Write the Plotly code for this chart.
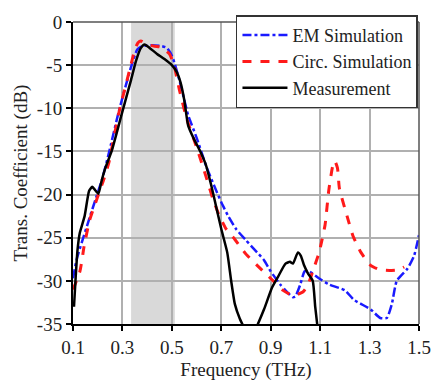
import plotly.graph_objects as go

# Measurement
meas_f = [0.104, 0.110, 0.118, 0.127, 0.147, 0.165, 0.178, 0.190, 0.203, 0.215, 0.230, 0.257, 0.296,
          0.335, 0.355, 0.375, 0.390, 0.410, 0.440, 0.470, 0.500, 0.520, 0.535, 0.550, 0.566, 0.590,
          0.615, 0.637, 0.660, 0.680, 0.700, 0.724, 0.740, 0.755, 0.775, 0.790, 0.815, 0.845, 0.873,
          0.905, 0.930, 0.960, 0.978, 0.990, 1.010, 1.022, 1.035, 1.050, 1.070, 1.080, 1.090]
meas_db = [-33.0, -30.0, -26.5, -24.5, -22.5, -19.6, -19.1, -19.5, -19.9, -18.5, -17.0, -14.9, -10.8,
           -6.7, -4.5, -3.0, -2.6, -3.0, -3.7, -4.3, -5.0, -5.8, -7.0, -9.0, -12.0, -13.6,
           -15.0, -16.5, -19.0, -21.5, -24.0, -26.7, -30.0, -32.7, -34.4, -35.3, -37.0, -35.2, -33.3,
           -30.8, -29.5, -28.0, -27.8, -28.0, -26.7, -27.1, -28.2, -29.1, -30.0, -33.0, -35.5]

# EM simulation
em_f = [0.100, 0.115, 0.135, 0.167, 0.193, 0.218, 0.245, 0.285, 0.335, 0.360, 0.380, 0.420, 0.460,
        0.480, 0.495, 0.508, 0.530, 0.550, 0.566, 0.600, 0.640, 0.670, 0.700, 0.730, 0.760, 0.800,
        0.845, 0.873, 0.900, 0.938, 0.960, 0.990, 1.000, 1.020, 1.037, 1.056, 1.095, 1.135, 1.200,
        1.237, 1.304, 1.343, 1.370, 1.390, 1.410, 1.453, 1.480, 1.500]
em_db = [-29.7, -27.5, -25.6, -22.7, -20.4, -18.2, -15.2, -10.4, -5.2, -3.2, -2.8, -2.7, -2.8,
         -3.0, -3.6, -4.5, -6.7, -9.0, -10.8, -13.4, -16.8, -18.9, -20.9, -22.6, -24.0, -25.3,
         -26.7, -27.6, -28.9, -30.4, -31.1, -31.9, -31.8, -30.4, -28.9, -28.9, -29.7, -30.4, -31.1,
         -32.2, -33.3, -34.3, -34.3, -32.7, -30.0, -28.6, -27.1, -24.7]

# Circuit simulation
circ_f = [0.100, 0.128, 0.145, 0.167, 0.198, 0.225, 0.245, 0.285, 0.335, 0.350, 0.363, 0.375, 0.400,
          0.430, 0.455, 0.470, 0.490, 0.508, 0.530, 0.560, 0.600, 0.637, 0.665, 0.690, 0.720, 0.755,
          0.800, 0.845, 0.910, 0.950, 0.990, 1.030, 1.050, 1.070, 1.095, 1.108, 1.120, 1.135, 1.150,
          1.159, 1.170, 1.178, 1.206, 1.233, 1.265, 1.304, 1.340, 1.380, 1.420, 1.440]
circ_db = [-31.0, -28.9, -26.0, -23.0, -20.4, -18.2, -16.3, -10.6, -4.9, -3.2, -2.4, -2.2, -2.6,
           -2.8, -2.9, -3.2, -3.7, -4.9, -7.8, -11.2, -14.5, -17.8, -20.4, -22.3, -24.0, -25.2,
           -26.9, -28.2, -30.0, -31.1, -31.7, -31.3, -30.5, -28.9, -26.8, -25.2, -23.5, -19.5, -16.8,
           -16.1, -16.9, -19.3, -22.2, -24.8, -26.7, -28.2, -28.7, -28.8, -28.7, -28.4]

band = [0.335, 0.512]
x_ticks = [0.1, 0.3, 0.5, 0.7, 0.9, 1.1, 1.3, 1.5]
x_ticktext = ["0.1", "0.3", "0.5", "0.7", "0.9", "1.1", "1.3", "1.5"]
y_ticks = [0, -5, -10, -15, -20, -25, -30, -35]
y_ticktext = ["0", "-5", "-10", "-15", "-20", "-25", "-30", "-35"]

FONT = "Liberation Serif"

fig = go.Figure()
fig.add_trace(go.Scatter(x=em_f, y=em_db, mode="lines", name="EM Simulation",
                         line=dict(color="#1a1aff", width=2.5, dash="dashdot", shape="spline", smoothing=0.5)))
fig.add_trace(go.Scatter(x=circ_f, y=circ_db, mode="lines", name="Circ. Simulation",
                         line=dict(color="#ff1a1a", width=3, dash="dash", shape="spline", smoothing=0.5)))
fig.add_trace(go.Scatter(x=meas_f, y=meas_db, mode="lines", name="Measurement",
                         line=dict(color="#000000", width=2.5, shape="spline", smoothing=0.5)))

fig.add_shape(type="rect", xref="x", yref="y", x0=band[0], x1=band[1], y0=-35, y1=0,
              fillcolor="#d9d9d9", line=dict(width=0), layer="below")
# top / right frame
fig.add_shape(type="line", xref="paper", yref="paper", x0=0, x1=1, y0=1, y1=1,
              line=dict(color="#555555", width=1.5))
fig.add_shape(type="line", xref="paper", yref="paper", x0=1, x1=1, y0=0, y1=1,
              line=dict(color="#555555", width=1.5))

fig.update_layout(
    width=443, height=389,
    margin=dict(l=73, r=13, t=13, b=60),
    paper_bgcolor="white", plot_bgcolor="white",
    font=dict(family=FONT, size=19, color="#222222"),
    showlegend=True,
    legend=dict(x=0.997, y=1.022, xanchor="right", yanchor="top",
                bgcolor="white", bordercolor="#333333", borderwidth=1.5,
                font=dict(family=FONT, size=18, color="#222222"),
                itemwidth=45, tracegroupgap=0),
)
fig.update_xaxes(range=[0.1, 1.5], tickvals=x_ticks, ticktext=x_ticktext,
                 showgrid=True, gridcolor="#b0b0b0", gridwidth=1.5,
                 showline=True, linecolor="#000000", linewidth=2,
                 ticks="outside", ticklen=5, tickwidth=1.5, tickcolor="#000000",
                 zeroline=False, tickfont=dict(family=FONT, size=19),
                 title=dict(text="Frequency (THz)", standoff=6, font=dict(family=FONT, size=19)))
fig.update_yaxes(range=[-35, 0], tickvals=y_ticks, ticktext=y_ticktext,
                 showgrid=True, gridcolor="#b0b0b0", gridwidth=1.5,
                 showline=True, linecolor="#000000", linewidth=2,
                 ticks="outside", ticklen=5, tickwidth=1.5, tickcolor="#000000",
                 zeroline=False, tickfont=dict(family=FONT, size=19),
                 title=dict(text="Trans. Coefficient (dB)", standoff=4, font=dict(family=FONT, size=19)))

fig.write_html("out.html")
